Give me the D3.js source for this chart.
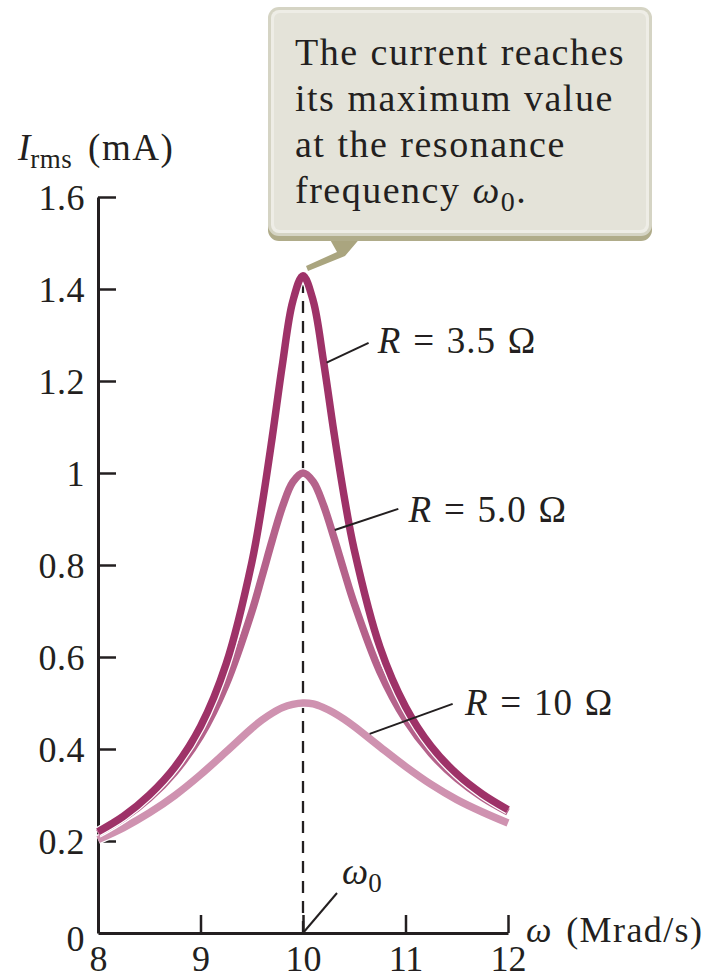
<!DOCTYPE html>
<html>
<head>
<meta charset="utf-8">
<script src="https://cdn.jsdelivr.net/npm/d3@7"></script>
<style>
  body { margin: 0; background: #ffffff; }
  svg { display: block; }
  text { font-family: "Liberation Serif", "DejaVu Serif", serif; fill: #231f20; }
</style>
</head>
<body>
<svg id="chart" width="719" height="980"></svg>
<script>
// Angular frequency samples (Mrad/s)
const omega = [8, 8.25, 8.5, 8.75, 9, 9.25, 9.5, 9.6, 9.7, 9.8, 9.9, 10,
               10.1, 10.2, 10.3, 10.4, 10.5, 10.75, 11, 11.25, 11.5, 11.75, 12];

// rms current (mA) for each resistance
const currentR35 = [0.220, 0.254, 0.300, 0.361, 0.449, 0.585, 0.805, 0.930, 1.078, 1.237, 1.373, 1.429,
                    1.374, 1.243, 1.091, 0.951, 0.833, 0.622, 0.492, 0.406, 0.346, 0.302, 0.268];
const currentR50 = [0.217, 0.250, 0.293, 0.350, 0.428, 0.540, 0.698, 0.775, 0.854, 0.927, 0.980, 1.000,
                    0.981, 0.930, 0.861, 0.787, 0.716, 0.568, 0.464, 0.390, 0.336, 0.295, 0.263];
const currentR10 = [0.203, 0.229, 0.261, 0.299, 0.344, 0.394, 0.445, 0.463, 0.478, 0.490, 0.497, 0.500,
                    0.498, 0.490, 0.479, 0.465, 0.449, 0.405, 0.362, 0.323, 0.290, 0.263, 0.239];

const resistanceLabels = ["3.5", "5.0", "10"];
const xTicks = [8, 9, 10, 11, 12];
const xTickLabels = ["8", "9", "10", "11", "12"];
const yTicks = [0, 0.2, 0.4, 0.6, 0.8, 1, 1.2, 1.4, 1.6];
const yTickLabels = ["0", "0.2", "0.4", "0.6", "0.8", "1", "1.2", "1.4", "1.6"];
const resonance = 10;
const calloutLines = ["The current reaches", "its maximum value", "at the resonance", "frequency "];

const svg = d3.select("#chart");
const ink = "#231f20";

const x = d3.scaleLinear().domain([8, 12]).range([98, 508]);
const y = d3.scaleLinear().domain([0, 1.6]).range([933, 197]);

// ---- axes ----
const yAxis = d3.axisLeft(y)
  .tickValues(yTicks)
  .tickFormat((d, i) => yTickLabels[i])
  .tickSizeInner(-18).tickSizeOuter(0).tickPadding(13);
const gy = svg.append("g").attr("transform", `translate(${x(8)},0)`).call(yAxis);
gy.select(".domain").attr("stroke", ink).attr("stroke-width", 3);
gy.selectAll(".tick line").attr("stroke", ink).attr("stroke-width", 2.5);
gy.selectAll(".tick text").attr("font-size", 36).attr("fill", ink)
  .attr("font-family", '"Liberation Serif", serif').attr("dy", "0.34em")
  .attr("letter-spacing", 0.5);
gy.selectAll(".tick").filter(d => d === 0).select("line").remove();
gy.selectAll(".tick").filter(d => d === 0).select("text").attr("dy", "0.48em");

const xAxis = d3.axisBottom(x)
  .tickValues(xTicks)
  .tickFormat((d, i) => xTickLabels[i])
  .tickSizeInner(-18).tickSizeOuter(0).tickPadding(12);
const gx = svg.append("g").attr("transform", `translate(0,${y(0)})`).call(xAxis);
gx.select(".domain").attr("stroke", ink).attr("stroke-width", 3);
gx.selectAll(".tick line").attr("stroke", ink).attr("stroke-width", 2.5);
gx.selectAll(".tick text").attr("font-size", 36).attr("fill", ink)
  .attr("font-family", '"Liberation Serif", serif');
gx.selectAll(".tick").filter(d => d === 8).select("line").remove();

// axis titles
const yTitle = svg.append("text").attr("x", 18).attr("y", 160).attr("font-size", 37);
yTitle.append("tspan").attr("font-style", "italic").text("I");
yTitle.append("tspan").attr("font-size", 27).attr("dy", 8).attr("letter-spacing", 0.5).text("rms");
yTitle.append("tspan").attr("dy", -8).attr("letter-spacing", 1.5).attr("word-spacing", 5).text(" (mA)");

const xTitle = svg.append("text").attr("x", 526).attr("y", 942).attr("font-size", 36)
  .attr("letter-spacing", 1.4).attr("word-spacing", 3);
xTitle.append("tspan").attr("font-style", "italic").text("ω");
xTitle.append("tspan").text(" (Mrad/s)");

// ---- resonance marker ----
svg.append("line")
  .attr("x1", x(resonance)).attr("x2", x(resonance))
  .attr("y1", y(0)).attr("y2", y(d3.max(currentR35)))
  .attr("stroke", ink).attr("stroke-width", 2.3)
  .attr("stroke-dasharray", "12,8");

// ---- curves ----
const series = [
  { values: currentR10, color: "#cf92b0", label: resistanceLabels[2] },
  { values: currentR50, color: "#b5628b", label: resistanceLabels[1] },
  { values: currentR35, color: "#9e3268", label: resistanceLabels[0] }
];
const line = d3.line()
  .x((d, i) => x(omega[i]))
  .y(d => y(d))
  .curve(d3.curveCatmullRom.alpha(0.5));

series.forEach(s => {
  svg.append("path").attr("d", line(s.values))
    .attr("fill", "none").attr("stroke", "#ffffff").attr("stroke-width", 10)
    .attr("stroke-linejoin", "round");
  svg.append("path").attr("d", line(s.values))
    .attr("fill", "none").attr("stroke", s.color).attr("stroke-width", 7.5)
    .attr("stroke-linejoin", "round").attr("stroke-linecap", "butt");
});

// ---- curve labels with leaders (anchors in data units) ----
const notes = [
  { from: [10.23, 1.24], to: [10.64, 1.283], text: [10.73, 1.261], r: resistanceLabels[0] },
  { from: [10.31, 0.876], to: [10.93, 0.922], text: [11.03, 0.893], r: resistanceLabels[1] },
  { from: [10.65, 0.433], to: [11.46, 0.498], text: [11.58, 0.474], r: resistanceLabels[2] }
];
notes.forEach(n => {
  svg.append("line")
    .attr("x1", x(n.from[0])).attr("y1", y(n.from[1]))
    .attr("x2", x(n.to[0])).attr("y2", y(n.to[1]))
    .attr("stroke", ink).attr("stroke-width", 2);
  const t = svg.append("text").attr("x", x(n.text[0])).attr("y", y(n.text[1]))
    .attr("font-size", 37).attr("letter-spacing", 1).attr("word-spacing", 1.5);
  t.append("tspan").attr("font-style", "italic").text("R");
  t.append("tspan").text(" = " + n.r + " Ω");
});

// ω0 label on the axis
svg.append("line")
  .attr("x1", x(resonance)).attr("y1", y(0))
  .attr("x2", x(resonance) + 34).attr("y2", y(0) - 40)
  .attr("stroke", ink).attr("stroke-width", 2);
const w0 = svg.append("text").attr("x", 342).attr("y", 884).attr("font-size", 37);
w0.append("tspan").attr("font-style", "italic").text("ω");
w0.append("tspan").attr("font-size", 27).attr("dy", 8).text("0");

// ---- callout ----
const box = { x0: 268, y0: 7, x1: 652, y1: 240, r: 11 };
const c = svg.append("g");
// pointer
c.append("path")
  .attr("d", `M328,236 L362,236 L345,256 L308,271 L306,266 L337,252 Z`)
  .attr("fill", "#aaa57f");
// drop band
c.append("rect").attr("x", box.x0).attr("y", box.y0 + 3)
  .attr("width", box.x1 - box.x0).attr("height", box.y1 - box.y0 - 2)
  .attr("rx", box.r).attr("fill", "#b0ac8a");
// outer rim
c.append("rect").attr("x", box.x0).attr("y", box.y0)
  .attr("width", box.x1 - box.x0).attr("height", box.y1 - box.y0 - 4)
  .attr("rx", box.r).attr("fill", "#d5d4c4");
// inner highlight and face
c.append("rect").attr("x", box.x0 + 3).attr("y", box.y0 + 3)
  .attr("width", box.x1 - box.x0 - 6).attr("height", box.y1 - box.y0 - 10)
  .attr("rx", box.r - 3).attr("fill", "#eeede6");
c.append("rect").attr("x", box.x0 + 6).attr("y", box.y0 + 6)
  .attr("width", box.x1 - box.x0 - 12).attr("height", box.y1 - box.y0 - 16)
  .attr("rx", box.r - 5).attr("fill", "#e4e3d9");

calloutLines.forEach((s, i) => {
  const t = c.append("text").attr("x", 295).attr("y", 65 + i * 46)
    .attr("font-size", 38).attr("letter-spacing", 1.5).attr("word-spacing", 1).text(s);
  if (i === calloutLines.length - 1) {
    t.append("tspan").attr("font-style", "italic").text("ω");
    t.append("tspan").attr("font-size", 28).attr("dy", 8).text("0");
    t.append("tspan").attr("dy", -8).text(".");
  }
});
</script>
</body>
</html>
